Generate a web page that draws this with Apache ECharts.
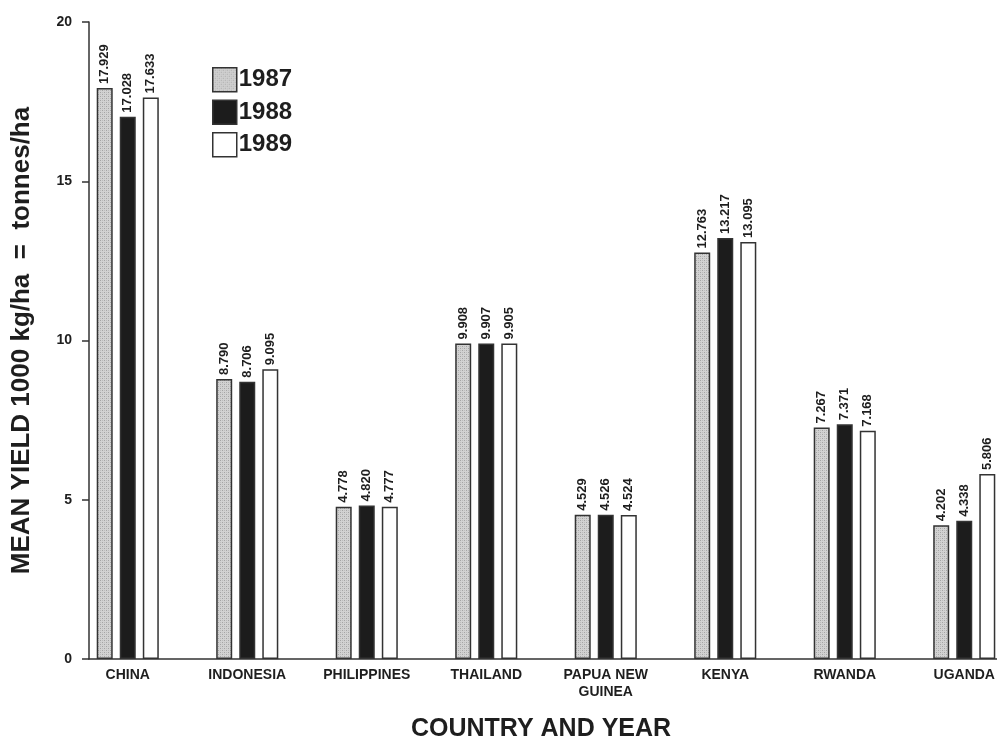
<!DOCTYPE html>
<html>
<head>
<meta charset="utf-8">
<script src="https://cdn.jsdelivr.net/npm/echarts@6/dist/echarts.min.js"></script>
<style>
  html, body { margin: 0; padding: 0; background: #fff; }
  #chart { width: 997px; height: 739px; }
</style>
</head>
<body>
<div id="chart"></div>
<script>
// Mean yield per country, three seasons (1000 kg/ha = tonnes/ha)
const countries = ['CHINA', 'INDONESIA', 'PHILIPPINES', 'THAILAND', 'PAPUA NEW\nGUINEA', 'KENYA', 'RWANDA', 'UGANDA'];
const years = ['1987', '1988', '1989'];
const yield1987 = [17.929, 8.790, 4.778, 9.908, 4.529, 12.763, 7.267, 4.202];
const yield1988 = [17.028, 8.706, 4.820, 9.907, 4.526, 13.217, 7.371, 4.338];
const yield1989 = [17.633, 9.095, 4.777, 9.905, 4.524, 13.095, 7.168, 5.806];
const yTicks = [0, 5, 10, 15, 20];

const FONT = '"Liberation Sans", Arial, Helvetica, sans-serif';
const INK = '#1e1e1e';

// Fine stipple fill for the first season
function stipple() {
  const c = document.createElement('canvas');
  c.width = 4; c.height = 4;
  const g = c.getContext('2d');
  g.fillStyle = '#d2d2d2';
  g.fillRect(0, 0, 4, 4);
  g.fillStyle = '#a4a4a4';
  g.fillRect(0, 0, 1, 1);
  g.fillRect(2, 2, 1, 1);
  g.fillStyle = '#bcbcbc';
  g.fillRect(2, 0, 1, 1);
  g.fillRect(0, 2, 1, 1);
  return { image: c, repeat: 'repeat' };
}

const fills = [stipple(), '#1c1c1c', '#ffffff'];
const values = [yield1987, yield1988, yield1989];

const chart = echarts.init(document.getElementById('chart'));

const series = years.map((yr, i) => ({
  name: yr,
  type: 'bar',
  xAxisIndex: 0,
  yAxisIndex: 0,
  data: values[i],
  barWidth: 16,
  barGap: '44%',
  itemStyle: { color: fills[i], borderColor: '#333', borderWidth: 1.5 },
  label: {
    show: true,
    position: 'top',
    rotate: 90,
    align: 'left',
    verticalAlign: 'middle',
    distance: 4,
    formatter: p => p.value.toFixed(3),
    fontFamily: FONT,
    fontWeight: 'bold',
    fontSize: 13,
    color: INK
  }
}));

chart.setOption({
  animation: false,
  backgroundColor: '#fff',
  legend: {
    orient: 'vertical',
    left: 207,
    top: 62,
    itemWidth: 24,
    itemHeight: 24,
    itemGap: 7,
    icon: 'rect',
    data: years,
    textStyle: { fontFamily: FONT, fontWeight: 'bold', fontSize: 24, color: INK, padding: [0, 0, 0, -3] },
    itemStyle: { borderColor: '#333', borderWidth: 1.5 }
  },
  grid: [
    { left: 68, right: -27, top: 22, bottom: 80, outerBoundsMode: 'none', containLabel: false },
    { left: 89, right: 0, top: 22, bottom: 80, outerBoundsMode: 'none', containLabel: false }
  ],
  xAxis: [
    {
      type: 'category',
      gridIndex: 0,
      data: countries,
      boundaryGap: true,
      axisLine: { show: false },
      axisTick: { show: false },
      axisLabel: {
        interval: 0,
        margin: 8,
        fontFamily: FONT,
        fontWeight: 'bold',
        fontSize: 14,
        lineHeight: 17,
        color: INK
      },
      name: 'COUNTRY AND YEAR',
      nameLocation: 'middle',
      nameGap: 58,
      nameTextStyle: { fontFamily: FONT, fontWeight: 'bold', fontSize: 25, color: INK, padding: [0, 10, 0, 0] }
    },
    {
      type: 'value',
      gridIndex: 1,
      min: 0,
      max: 1,
      axisLine: { show: true, lineStyle: { color: '#333', width: 1.5 } },
      axisTick: { show: false },
      axisLabel: { show: false },
      splitLine: { show: false }
    }
  ],
  yAxis: [
    {
      type: 'value',
      gridIndex: 0,
      min: 0,
      max: 20,
      interval: 5,
      show: false,
      splitLine: { show: false }
    },
    {
      type: 'value',
      gridIndex: 1,
      min: yTicks[0],
      max: yTicks[yTicks.length - 1],
      interval: 5,
      axisLine: { show: true, lineStyle: { color: '#333', width: 1.5 } },
      axisTick: { show: true, inside: false, length: 7, lineStyle: { color: '#333', width: 1.5 } },
      splitLine: { show: false },
      axisLabel: {
        margin: 17,
        fontFamily: FONT,
        fontWeight: 'bold',
        fontSize: 14,
        color: INK
      },
      name: 'MEAN YIELD 1000 kg/ha  =  tonnes/ha',
      nameLocation: 'middle',
      nameRotate: 90,
      nameGap: 54,
      nameTextStyle: { fontFamily: FONT, fontWeight: 'bold', fontSize: 26, color: INK }
    }
  ],
  series
});
</script>
</body>
</html>
